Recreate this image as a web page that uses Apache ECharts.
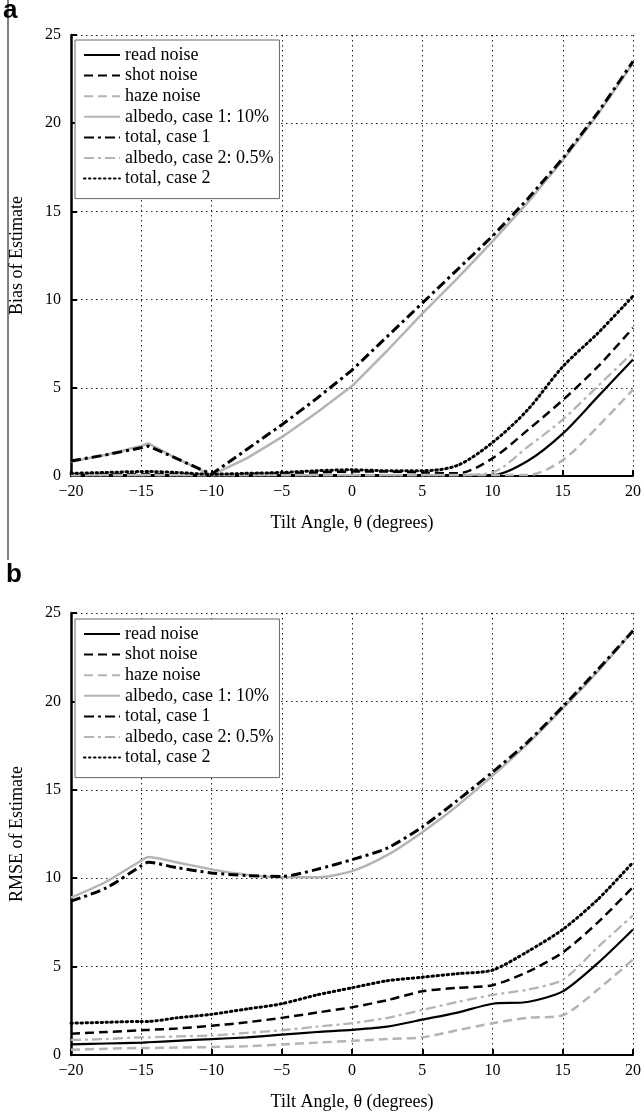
<!DOCTYPE html>
<html><head><meta charset="utf-8">
<script src="https://cdn.jsdelivr.net/npm/echarts@6/dist/echarts.min.js"></script>
<style>html,body{margin:0;padding:0;background:#fff}#c{width:644px;height:1117px}</style>
</head><body><div id="c"></div>
<script>
// Tilt angle samples (degrees)
const tilt = [-20,-17.5,-15,-14.5,-12.5,-10,-7.5,-5,-2.5,0,2.5,5,7.5,10,12.5,15,17.5,20];
const xTicks = [-20,-15,-10,-5,0,5,10,15,20];
const yTicks = [0,5,10,15,20,25];
const seriesNames = ['read noise','shot noise','haze noise','albedo, case 1: 10%','total, case 1','albedo, case 2: 0.5%','total, case 2'];

// Panel a: Bias of Estimate
const biasRead    = [0.05,0.05,0.05,0.05,0.05,0.05,0.05,0.05,0.05,0.05,0.05,0.05,0.05,0.05,0.85,2.4,4.5,6.6];
const biasShot    = [0.1,0.1,0.1,0.1,0.1,0.05,0.1,0.15,0.2,0.25,0.25,0.2,0.15,1.0,2.6,4.3,6.2,8.4];
const biasHaze    = [0.05,0.05,0.05,0.05,0.05,0.05,0.05,0.05,0.05,0.05,0.05,0.05,0.05,0.05,0.05,0.9,2.8,4.9];
const biasAlb1    = [0.8,1.2,1.7,1.85,1.0,0.05,1.0,2.2,3.6,5.1,7.1,9.2,11.2,13.3,15.5,17.9,20.5,23.4];
const biasTot1    = [0.85,1.2,1.6,1.7,1.0,0.1,1.5,2.9,4.4,6.0,7.9,9.8,11.7,13.6,15.7,18.0,20.6,23.5];
const biasAlb2    = [0.05,0.05,0.05,0.05,0.05,0.05,0.05,0.05,0.05,0.05,0.05,0.05,0.05,0.2,1.65,3.2,5.1,7.0];
const biasTot2    = [0.15,0.2,0.25,0.25,0.2,0.1,0.15,0.2,0.3,0.35,0.3,0.3,0.6,1.9,3.75,6.2,8.1,10.2];

// Panel b: RMSE of Estimate
const rmseRead    = [0.6,0.65,0.7,0.72,0.8,0.9,1.0,1.15,1.3,1.42,1.6,2.0,2.4,2.9,3.0,3.6,5.2,7.1];
const rmseShot    = [1.2,1.3,1.4,1.42,1.5,1.65,1.85,2.1,2.4,2.7,3.1,3.6,3.8,3.95,4.7,5.8,7.5,9.5];
const rmseHaze    = [0.3,0.35,0.4,0.4,0.42,0.45,0.5,0.6,0.7,0.8,0.9,1.0,1.4,1.8,2.1,2.25,3.7,5.4];
const rmseAlb1    = [8.9,9.8,11.0,11.2,10.9,10.5,10.2,10.05,10.05,10.4,11.3,12.6,14.1,15.8,17.6,19.6,21.7,24.0];
const rmseTot1    = [8.7,9.45,10.7,10.9,10.6,10.3,10.15,10.1,10.5,11.05,11.7,12.9,14.4,16.0,17.7,19.7,21.8,24.0];
const rmseAlb2    = [0.85,0.9,1.0,1.0,1.05,1.1,1.25,1.4,1.6,1.8,2.1,2.55,3.0,3.4,3.7,4.25,6.1,7.9];
const rmseTot2    = [1.8,1.85,1.9,1.9,2.1,2.3,2.6,2.9,3.4,3.8,4.2,4.4,4.6,4.8,5.85,7.1,8.8,10.9];

const GRAY = '#b4b4b4', BLACK = '#000';
const styles = {
  'read noise': {color: BLACK, type: 'solid', width: 2.2},
  'shot noise': {color: BLACK, type: [9,5], width: 2.5},
  'haze noise': {color: GRAY, type: [9,5], width: 2.5},
  'albedo, case 1: 10%': {color: GRAY, type: 'solid', width: 2.5},
  'total, case 1': {color: BLACK, type: [10,4,3,4], width: 3},
  'albedo, case 2: 0.5%': {color: GRAY, type: [10,4,3,4], width: 2.3},
  'total, case 2': {color: BLACK, type: [1.5,3.5], width: 3, cap: 'round'}
};
const serif = 'Liberation Serif';

function mk(name, vals, idx, smooth) {
  const s = styles[name];
  return {
    name, type: 'line', xAxisIndex: idx, yAxisIndex: idx,
    data: tilt.map((t,i)=>[t, vals[i]]),
    symbol: 'none', showSymbol: false, smooth: smooth,
    lineStyle: {color: s.color, type: s.type, width: s.width, cap: s.cap || 'butt'},
    itemStyle: {color: s.color},
    z: name.indexOf('total') === 0 ? 5 : 3
  };
}

const panelA = [biasRead,biasShot,biasHaze,biasAlb1,biasTot1,biasAlb2,biasTot2];
const panelB = [rmseRead,rmseShot,rmseHaze,rmseAlb1,rmseTot1,rmseAlb2,rmseTot2];
const series = [];
seriesNames.forEach((n,i)=>{
  const sm = (n === 'albedo, case 1: 10%' || n === 'total, case 1') ? false : 0.3;
  series.push(mk(n, panelA[i], 0, sm));
});
seriesNames.forEach((n,i)=>series.push(mk(n, panelB[i], 1, 0.25)));

function xAxis(gi, name) {
  return {
    type: 'value', gridIndex: gi, min: xTicks[0], max: xTicks[xTicks.length-1], interval: 5,
    name, nameLocation: 'middle', nameGap: 38,
    nameTextStyle: {fontFamily: serif, fontSize: 18, color: BLACK},
    axisLine: {onZero: false, lineStyle: {color: BLACK, width: 2}},
    axisTick: {inside: true, length: 6, lineStyle: {color: BLACK, width: 2}},
    axisLabel: {fontFamily: serif, fontSize: 16, color: BLACK, margin: 8,
      formatter: v => String(v).replace('-', '\u2212')},
    splitLine: {show: true, lineStyle: {color: '#222', type: [1.5,3.5], width: 1}}
  };
}
function yAxis(gi, name) {
  return {
    type: 'value', gridIndex: gi, min: yTicks[0], max: yTicks[yTicks.length-1], interval: 5,
    name, nameLocation: 'middle', nameGap: 45, nameRotate: 90,
    nameTextStyle: {fontFamily: serif, fontSize: 18, color: BLACK},
    axisLine: {show: true, onZero: false, lineStyle: {color: BLACK, width: 2.5}},
    axisTick: {show: true, inside: true, length: 6, lineStyle: {color: BLACK, width: 2}},
    axisLabel: {fontFamily: serif, fontSize: 16, color: BLACK, margin: 10},
    splitLine: {show: true, lineStyle: {color: '#222', type: [1.5,3.5], width: 1}}
  };
}
function legend(top) {
  return {
    data: seriesNames, orient: 'vertical', left: 75, top: top,
    itemWidth: 36, itemHeight: 14, itemGap: 2.6, itemTextGap: 4,
    padding: [6, 6, 11, 8], backgroundColor: '#fff',
    borderColor: '#666', borderWidth: 1, selectedMode: false,
    itemStyle: {opacity: 0},
    textStyle: {fontFamily: serif, fontSize: 18, color: BLACK, lineHeight: 16.5}
  };
}

const chart = echarts.init(document.getElementById('c'), null, {renderer: 'canvas'});
chart.setOption({
  animation: false,
  backgroundColor: '#fff',
  grid: [
    {left: 69, right: 11, top: 35, height: 441},
    {left: 69, right: 11, top: 613, height: 442}
  ],
  xAxis: [xAxis(0, 'Tilt Angle, \u03b8 (degrees)'), xAxis(1, 'Tilt Angle, \u03b8 (degrees)')],
  yAxis: [yAxis(0, 'Bias of Estimate'), yAxis(1, 'RMSE of Estimate')],
  legend: [legend(40), legend(619)],
  series,
  graphic: [
    {type: 'line', shape: {x1: 8, y1: 0, x2: 8, y2: 560}, style: {stroke: '#555', lineWidth: 1.5}},
    {type: 'text', left: 3, top: -2, style: {text: 'a', font: 'bold 26px "Liberation Sans"', fill: BLACK}},
    {type: 'text', left: 6, top: 562, style: {text: 'b', font: 'bold 26px "Liberation Sans"', fill: BLACK}}
  ]
});
</script></body></html>
